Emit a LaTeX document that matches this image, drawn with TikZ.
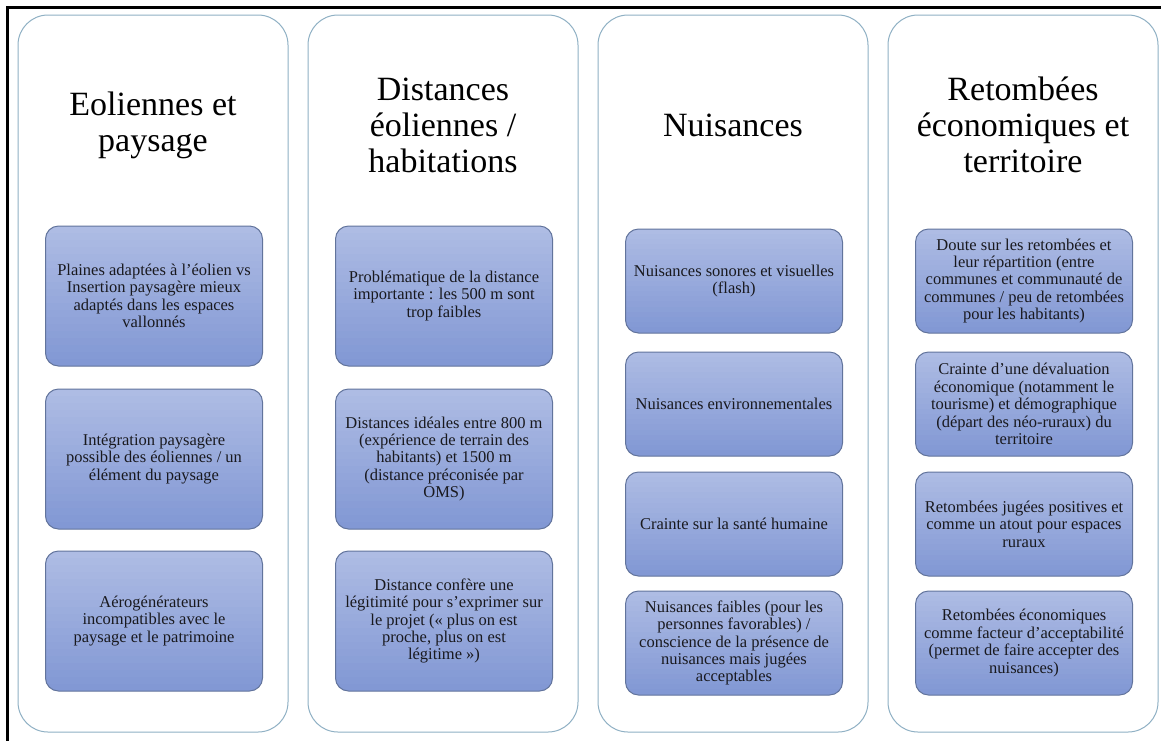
\documentclass[tikz,border=0pt]{standalone}
\usepackage{fontspec}
\newfontfamily\serifT{Liberation Serif}[Ligatures=NoCommon]
\definecolor{colborder}{RGB}{143,176,196}
\definecolor{iborder}{RGB}{98,116,156}
\definecolor{itop}{RGB}{174,188,228}
\definecolor{ibot}{RGB}{130,152,212}
\definecolor{itext}{RGB}{25,25,30}
\tikzset{
  colbox/.style={draw=colborder, line width=1pt, rounded corners=30pt, fill=white,
    minimum width=270pt, minimum height=717pt, inner sep=0pt},
  coltitle/.style={align=center, font=\serifT\fontsize{34}{36}\selectfont, text=black, inner sep=0pt},
  ibox/.style={draw=iborder, line width=1pt, rounded corners=13pt,
    minimum width=217pt, align=center, font=\serifT\fontsize{16.5}{17.4}\selectfont, text=itext, inner sep=2pt},
  frameline/.style={draw=black, line width=2.5pt}
}
% #1 name, #2 x, #3 y, #4 height, #5 text
\newcommand\gradbox[5]{%
  \begin{scope}
    \clip[rounded corners=13pt] (#2-108.5,#3-#4/2) rectangle (#2+108.5,#3+#4/2);
    \foreach \k in {0,...,19}{
      \pgfmathtruncatemacro\pct{100-\k*100/19}
      \fill[itop!\pct!ibot] (#2-110,#3-#4/2+\k*#4/20-0.5) rectangle (#2+110,#3-#4/2+\k*#4/20+#4/20+0.5);
    }
  \end{scope}
  \node[ibox, minimum height=#4pt] (#1) at (#2,#3) {#5};
}
\begin{document}
\begin{tikzpicture}[x=1pt,y=-1pt]
\useasboundingbox (0,0) rectangle (1161,740);
\draw[frameline] (7.5,741) -- (7.5,7.5) -- (1162,7.5);

% columns
\node[colbox] (c1) at (153,373.5) {};
\node[colbox] (c2) at (443,373.5) {};
\node[colbox] (c3) at (733,373.5) {};
\node[colbox] (c4) at (1023,373.5) {};

% titles
\node[coltitle] (t1) at (153,125) {Eoliennes et\\paysage};
\node[coltitle] (t2) at (443,125) {Distances\\éoliennes /\\habitations};
\node[coltitle] (t3) at (733,125) {Nuisances};
\node[coltitle] (t4) at (1023,125) {Retombées\\économiques et\\territoire};

% column 1
\gradbox{b11}{154}{296}{140}{Plaines adaptées à l’éolien vs\\Insertion paysagère mieux\\adaptés dans les espaces\\vallonnés}
\gradbox{b12}{154}{459}{140}{Intégration paysagère\\possible des éoliennes / un\\élément du paysage}
\gradbox{b13}{154}{621}{140}{Aérogénérateurs\\incompatibles avec le\\paysage et le patrimoine}

% column 2
\gradbox{b21}{444}{296}{140}{Problématique de la distance\\importante : les 500 m sont\\trop faibles}
\gradbox{b22}{444}{459}{140}{Distances idéales entre 800 m\\(expérience de terrain des\\habitants) et 1500 m\\(distance préconisée par\\OMS)}
\gradbox{b23}{444}{621}{140}{Distance confère une\\légitimité pour s’exprimer sur\\le projet (« plus on est\\proche, plus on est\\légitime »)}

% column 3
\gradbox{b31}{734}{281}{104}{Nuisances sonores et visuelles\\(flash)}
\gradbox{b32}{734}{404}{104}{Nuisances environnementales}
\gradbox{b33}{734}{524}{104}{Crainte sur la santé humaine}
\gradbox{b34}{734}{643}{104}{Nuisances faibles (pour les\\personnes favorables) /\\conscience de la présence de\\nuisances mais jugées\\acceptables}

% column 4
\gradbox{b41}{1024}{281}{104}{Doute sur les retombées et\\leur répartition (entre\\communes et communauté de\\communes / peu de retombées\\pour les habitants)}
\gradbox{b42}{1024}{404}{104}{Crainte d’une dévaluation\\économique (notamment le\\tourisme) et démographique\\(départ des néo-ruraux) du\\territoire}
\gradbox{b43}{1024}{524}{104}{Retombées jugées positives et\\comme un atout pour espaces\\ruraux}
\gradbox{b44}{1024}{643}{104}{Retombées économiques\\comme facteur d’acceptabilité\\(permet de faire accepter des\\nuisances)}
\end{tikzpicture}
\end{document}
